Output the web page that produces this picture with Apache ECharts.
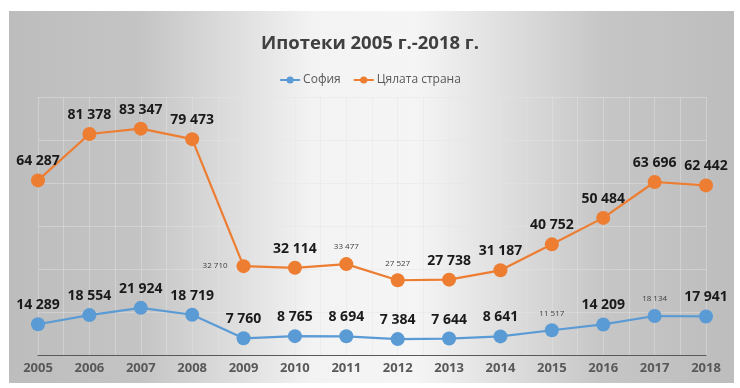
<!DOCTYPE html>
<html>
<head>
<meta charset="utf-8">
<script src="https://cdn.jsdelivr.net/npm/echarts@6/dist/echarts.min.js"></script>
<style>html,body{margin:0;padding:0;background:#fff}#c{width:740px;height:388px}</style>
</head>
<body>
<div id="c"></div>
<script>
const years = ['2005','2006','2007','2008','2009','2010','2011','2012','2013','2014','2015','2016','2017','2018'];
const sofia = [14289, 18554, 21924, 18719, 7760, 8765, 8694, 7384, 7644, 8641, 11517, 14209, 18134, 17941];
const country = [64287, 81378, 83347, 79473, 32710, 32114, 33477, 27527, 27738, 31187, 40752, 50484, 63696, 62442];
// labels drawn small in the reference
const smallSofia = ['2015', '2017'];
const smallCountry = ['2009', '2011', '2012'];

const FONT = '"Open Sans", "Noto Sans", sans-serif';
const chart = echarts.init(document.getElementById('c'));

function mkData(vals, smallSet, leftSet) {
  return vals.map((v, i) => {
    const small = smallSet.includes(years[i]);
    const d = { value: v };
    if (small) {
      d.label = { fontSize: 8, fontWeight: 'normal', color: '#404040', distance: 6 };
      if (leftSet && leftSet.includes(years[i])) {
        d.label.position = 'left';
        d.label.distance = 9;
      }
    }
    return d;
  });
}
const fmt = p => String(p.value).replace(/\B(?=(\d{3})+(?!\d))/g, ' ');
const GRID = 'rgba(228,228,228,0.45)';

chart.setOption({
  animation: false,
  textStyle: { fontFamily: FONT },
  graphic: [{
    type: 'rect', z: -10, silent: true,
    shape: { x: 9, y: 11, width: 725, height: 372 },
    style: {
      fill: new echarts.graphic.LinearGradient(0, 0, 1, 0, [
        { offset: 0, color: '#bdbdbd' },
        { offset: 0.18, color: '#c4c4c4' },
        { offset: 0.42, color: '#f3f3f3' },
        { offset: 0.56, color: '#f5f5f5' },
        { offset: 0.82, color: '#c6c6c6' },
        { offset: 1, color: '#bdbdbd' }
      ])
    }
  }],
  title: {
    text: 'Ипотеки 2005 г.-2018 г.',
    left: 'center', top: 29,
    textStyle: { fontFamily: FONT, fontSize: 18.5, fontWeight: 'bold', color: '#404040' }
  },
  legend: {
    top: 69, left: 'center', itemWidth: 20, itemHeight: 9, itemGap: 12,
    textStyle: { fontFamily: FONT, fontSize: 12, color: '#595959', padding: [0, 0, 0, -2] },
    data: ['София', 'Цялата страна']
  },
  grid: { left: 38, right: 34, top: 97, bottom: 33 },
  xAxis: [{
    type: 'category', data: years, boundaryGap: false,
    axisLine: { lineStyle: { color: '#595959', width: 1 } },
    axisTick: { show: false },
    axisLabel: { fontFamily: FONT, fontSize: 13, fontWeight: 'bold', color: '#595959', margin: 7 },
    splitLine: { show: false }
  }, {
    type: 'value', min: 0, max: 26, interval: 1, show: true,
    axisLine: { show: false }, axisTick: { show: false }, axisLabel: { show: false },
    splitLine: { show: true, lineStyle: { color: GRID, width: 1 } }
  }],
  yAxis: [{
    type: 'value', min: 0, max: 120000, interval: 20000,
    axisLine: { show: false }, axisTick: { show: false }, axisLabel: { show: false },
    splitLine: { show: true, lineStyle: { color: GRID, width: 1 } }
  }, {
    type: 'value', min: 0, max: 95000,
    axisLine: { show: false }, axisTick: { show: false }, axisLabel: { show: false },
    splitLine: { show: false }
  }],
  series: [{
    name: 'София', type: 'line', yAxisIndex: 0, xAxisIndex: 0,
    data: mkData(sofia, smallSofia),
    symbol: 'circle', symbolSize: 14,
    itemStyle: { color: '#5B9BD5' },
    lineStyle: { color: '#5B9BD5', width: 2.2 },
    label: { show: true, position: 'top', distance: 5, formatter: fmt,
      fontFamily: FONT, fontSize: 14, fontWeight: 'bold', color: '#1a1a1a' },
    z: 3
  }, {
    name: 'Цялата страна', type: 'line', yAxisIndex: 1, xAxisIndex: 0,
    data: mkData(country, smallCountry, ['2009']),
    symbol: 'circle', symbolSize: 14,
    itemStyle: { color: '#ED7D31' },
    lineStyle: { color: '#ED7D31', width: 2.2 },
    label: { show: true, position: 'top', distance: 5, formatter: fmt,
      fontFamily: FONT, fontSize: 14, fontWeight: 'bold', color: '#1a1a1a' },
    z: 3
  }]
});
</script>
</body>
</html>
